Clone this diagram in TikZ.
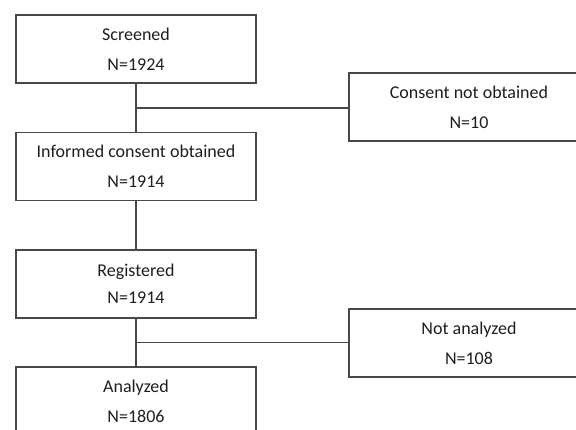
\documentclass[tikz,border=0pt]{standalone}
\usepackage{fontspec}
\setmainfont{Carlito}
\usepackage{tikz}
\usetikzlibrary{calc}
\usepackage{xcolor}
\definecolor{linegray}{RGB}{72,72,72}
\definecolor{textgray}{RGB}{30,30,30}

\begin{document}
\begin{tikzpicture}[
    x=1cm, y=1cm,
    flowbox/.style={
        rectangle, draw=linegray, line width=1.05pt,
        minimum width=6cm, minimum height=1.7cm,
        align=center, text=textgray,
        font=\fontsize{12.8}{21.3}\selectfont
    },
    link/.style={draw=linegray, line width=1.05pt}
]

% Frame of the picture
\clip (0,0) rectangle (14.4,10.725);

% Main column
\node[flowbox] (scr) at (3.4, 9.5)   {Screened\\N=1924};
\node[flowbox] (inf) at (3.4, 6.56)  {Informed consent obtained\\N=1914};
\node[flowbox, font=\fontsize{12.8}{19.2}\selectfont] (reg) at (3.4, 3.625) {Registered\\N=1914};
\node[flowbox] (ana) at (3.4, 0.7)   {Analyzed\\N=1806};

% Exclusions on the right
\node[flowbox] (ncons) at (11.725, 8.05) {Consent not obtained\\N=10};
\node[flowbox] (nana)  at (11.725, 2.15) {Not analyzed\\N=108};

% Branch points
\coordinate (br1) at ($(scr.south)!0.5!(inf.north)$);
\coordinate (br2) at ($(reg.south)!0.5!(ana.north)$);

% Connectors
\draw[link] (scr) -- (inf);
\draw[link] (inf) -- (reg);
\draw[link] (reg) -- (ana);
\draw[link] (br1) -- (br1 -| ncons.west);
\draw[link] (br2) -- (br2 -| nana.west);

\end{tikzpicture}
\end{document}
